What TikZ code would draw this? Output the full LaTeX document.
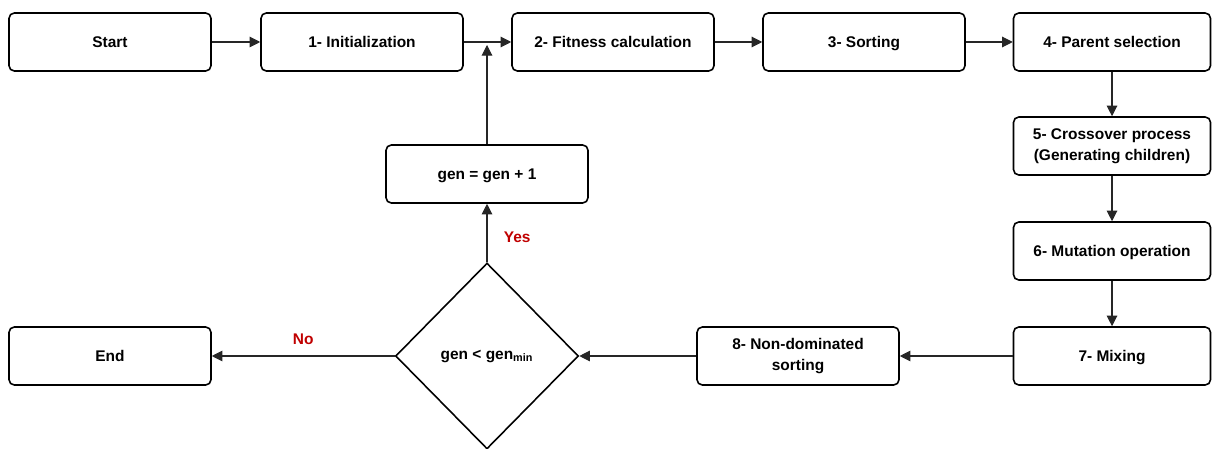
\documentclass[tikz,border=0pt]{standalone}
\usepackage{fontspec}
\setmainfont{Liberation Sans}
\usetikzlibrary{shapes.geometric,arrows.meta}
\definecolor{label_red}{RGB}{192,0,0}
\newcommand{\boxstrut}{\rule[-2pt]{0pt}{10.3pt}}
\begin{document}
\begin{tikzpicture}[x=0.02cm,y=-0.02cm]
        \tikzstyle{node_style} = [draw=black,line width=0.9pt,rounded corners=3pt,minimum width=4.04cm,minimum height=1.16cm,align=center,font=\fontsize{8.8}{11.8}\selectfont\bfseries,execute at begin node=\boxstrut,execute at end node=\boxstrut]
        \tikzstyle{side_style} = [node_style,minimum width=3.94cm]
        \tikzstyle{test_style} = [diamond,draw=black,line width=0.9pt,minimum width=3.66cm,minimum height=3.72cm,inner sep=0pt,font=\fontsize{8.8}{10.5}\selectfont\bfseries]
        \tikzstyle{flow_style} = [draw=black!85,line width=0.6pt,-{Triangle[length=6pt,width=6pt]}]
        \tikzstyle{answer_style} = [text=label_red,font=\fontsize{8.8}{10.5}\selectfont\bfseries]
        \useasboundingbox (0,0) rectangle (1212,449);
        \node[node_style] (start) at (110,42) {Start};
        \node[node_style] (init) at (362,42) {1- Initialization};
        \node[node_style] (fitness) at (613,42) {2- Fitness calculation};
        \node[node_style] (sorting) at (864,42) {3- Sorting};
        \node[side_style] (parent) at (1112,42) {4- Parent selection};
        \node[side_style] (crossover) at (1112,146) {5- Crossover process\\(Generating children)};
        \node[side_style] (mutation) at (1112,251) {6- Mutation operation};
        \node[side_style] (mixing) at (1112,356) {7- Mixing};
        \node[node_style] (nondom) at (798,356) {8- Non-dominated\\sorting};
        \node[test_style] (test) at (487,356) {gen < gen\textsubscript{min}};
        \node[node_style] (genplus) at (487,174) {gen = gen + 1};
        \node[node_style] (end) at (110,356) {End};
        \coordinate (join) at (487,42);
        \draw[flow_style] (start) -- (init);
        \draw[flow_style] (init) -- (fitness);
        \draw[flow_style] (fitness) -- (sorting);
        \draw[flow_style] (sorting) -- (parent);
        \draw[flow_style] (parent) -- (crossover);
        \draw[flow_style] (crossover) -- (mutation);
        \draw[flow_style] (mutation) -- (mixing);
        \draw[flow_style] (mixing) -- (nondom);
        \draw[flow_style] (nondom) -- (test);
        \draw[flow_style] (test) -- node[answer_style,pos=0.5,above=3pt] {No} (end);
        \draw[flow_style] (test.north) -- node[answer_style,pos=0.43,right=6pt] {Yes} (genplus);
        \draw[flow_style] (genplus) -- ([yshift=-0.06cm]join);
      \end{tikzpicture}
\end{document}
